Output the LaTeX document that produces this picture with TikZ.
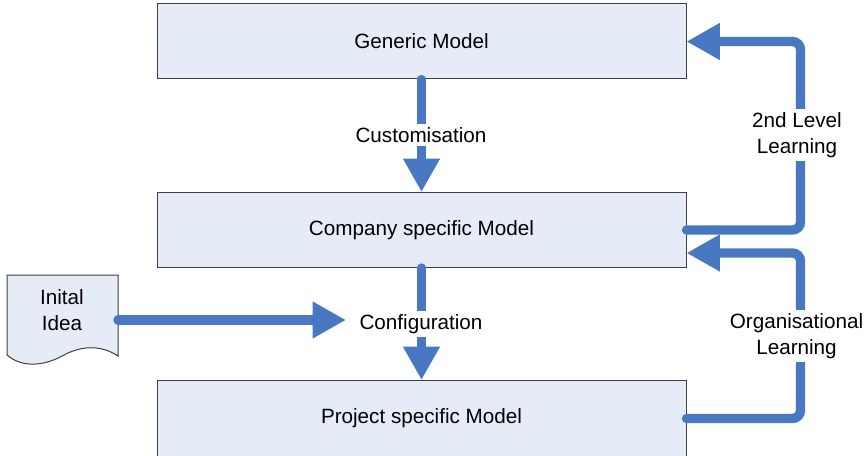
\documentclass[tikz,border=0pt]{standalone}
\usepackage{fontspec}
\setmainfont{Liberation Sans}
\usetikzlibrary{arrows.meta}

\definecolor{flowblue}{RGB}{72,120,194}
\definecolor{boxfill}{RGB}{230,236,247}
\definecolor{boxline}{RGB}{64,64,64}

\tikzset{
  modelbox/.style={draw=boxline, line width=0.75pt, fill=boxfill, minimum width=396.75pt, minimum height=56.25pt, inner sep=0pt, font=\fontsize{15.5}{19.5}\selectfont},
  flow/.style={draw=flowblue, line width=7pt, line cap=round, -{Triangle[width=26pt,length=25pt]}},
  backflow/.style={flow, rounded corners=6pt},
  flowlabel/.style={fill=white, inner sep=2.5pt, align=center, font=\fontsize{15.5}{19.5}\selectfont}
}

\begin{document}
\begin{tikzpicture}[x=0.75pt,y=0.75pt,yscale=-1,xscale=1]
	\useasboundingbox (0,0) rectangle (867,456);
	% models
	\node [modelbox] (generic) at (421.5,41.5) {Generic Model};
	\node [modelbox] (company) at (421.5,230) {Company specific Model};
	\node [modelbox, minimum height=57pt] (project) at (421.5,418.5) {Project specific Model};
	% initial idea document
	\draw [draw=boxline, line width=0.75pt, fill=boxfill] (7,275) -- (118,275) -- (118,356) .. controls (100,344) and (80,346) .. (62,356) .. controls (44,366) and (22,368) .. (7,355) -- cycle;
	\node [flowlabel, fill=none] (idea) at (62,310) {Inital\\Idea};
	\coordinate (idea out) at (118,320);
	% labels
	\node [flowlabel] (custom) at (421,135) {Customisation};
	\node [flowlabel] (config) at (421,324) {Configuration};
	\node [flowlabel] (second) at (797,135) {2nd Level\\Learning};
	\node [flowlabel] (orglearn) at (796.5,336) {Organisational\\Learning};
	% flows
	\draw [flow] (generic.south) -- (company.north);
	\draw [flow] (company.south) -- (project.north);
	\draw [flow, shorten >=7.5pt] (idea out) -- (idea out -| config.west);
	\draw [backflow] (company.east) -- ++(114,0) |- (generic.east);
	\draw [backflow] (project.east) -- ++(114,0) |- ([yshift=17.25pt]company.east);
	% labels on top of the flows
	\node [flowlabel] at (custom) {Customisation};
	\node [flowlabel] at (config) {Configuration};
	\node [flowlabel] at (second) {2nd Level\\Learning};
	\node [flowlabel] at (orglearn) {Organisational\\Learning};
\end{tikzpicture}
\end{document}
